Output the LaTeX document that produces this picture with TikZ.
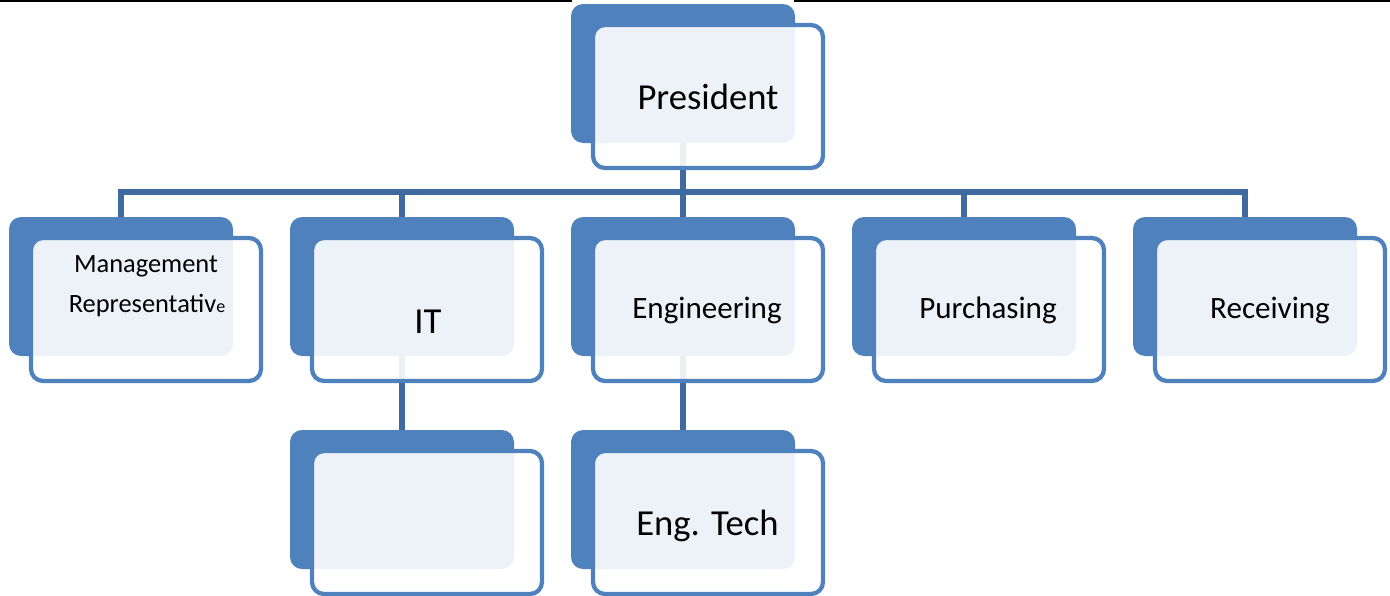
\documentclass[tikz,border=0pt]{standalone}
\usepackage{fontspec}
\setmainfont{Carlito}
\pgfdeclarelayer{bg}
\pgfsetlayers{bg,main}
\definecolor{accent}{RGB}{79,129,189}
\definecolor{linkblue}{RGB}{62,106,160}
\tikzset{
  backbox/.style={minimum width=168pt, minimum height=104.25pt, inner sep=0pt,
    rounded corners=9pt, fill=accent},
  frontbox/.style={minimum width=172.5pt, minimum height=107.25pt, inner sep=0pt,
    rounded corners=9pt, draw=accent, line width=3.2pt, fill=white, fill opacity=0.9},
  conn/.style={draw=linkblue, line width=3.9pt},
  bigtext/.style={anchor=base, inner sep=0pt, font=\fontsize{27.5}{33}\selectfont},
  midtext/.style={anchor=base, inner sep=0pt, font=\fontsize{23.3}{28}\selectfont},
  smalltext/.style={anchor=base, inner sep=0pt, font=\fontsize{19.8}{23}\selectfont},
}
\begin{document}
\begin{tikzpicture}[x=0.75pt, y=-0.75pt]
\useasboundingbox (0,0) rectangle (1390,596);

% thin rule along the top edge
\draw[black, line width=1.2pt] (0,0.8) -- (572,0.8);
\draw[black, line width=1.2pt] (794,0.8) -- (1390,0.8);

% bus level of the first tier
\coordinate (bus) at (0,192);

% top tier
\node[backbox]  (pres)  at (683,73.5) {};
\node[frontbox] (presF) at (708,96.5) {};
\node[bigtext]  (presT) at (708,109) {President};

% second tier
\node[backbox]  (mgmt)  at (121,286.5) {};
\node[frontbox] (mgmtF) at (146,309.5) {};
\node[smalltext] (mgmtT1) at (146,272) {Management};
\node[smalltext] (mgmtT2) at (147,312) {Representativ{\fontsize{13.5}{15}\selectfont e}};

\node[backbox]  (it)  at (402,286.5) {};
\node[frontbox] (itF) at (427,309.5) {};
\node[bigtext]  (itT) at (428,333) {IT};

\node[backbox]  (eng)  at (683,286.5) {};
\node[frontbox] (engF) at (708,309.5) {};
\node[midtext]  (engT) at (707,318) {Engineering};

\node[backbox]  (pur)  at (964,286.5) {};
\node[frontbox] (purF) at (989,309.5) {};
\node[midtext]  (purT) at (988,318) {Purchasing};

\node[backbox]  (rec)  at (1245,286.5) {};
\node[frontbox] (recF) at (1270,309.5) {};
\node[midtext]  (recT) at (1270,318) {Receiving};

% third tier
\node[backbox]  (itsub)  at (402,499.5) {};
\node[frontbox] (itsubF) at (427,522.5) {};

\node[backbox]  (tech)  at (683,499.5) {};
\node[frontbox] (techF) at (708,522.5) {};
\node[bigtext]  (techT) at (707.5,535) {Eng. Tech};

% connectors, kept behind the boxes
\begin{pgfonlayer}{bg}
  \foreach \child in {mgmt,it,eng,pur,rec}
    \draw[conn] (pres.center) -- (pres.center |- bus) -| (\child.center);
  \draw[conn] (it.center) -- (itsub.center);
  \draw[conn] (eng.center) -- (tech.center);
\end{pgfonlayer}
\end{tikzpicture}
\end{document}
